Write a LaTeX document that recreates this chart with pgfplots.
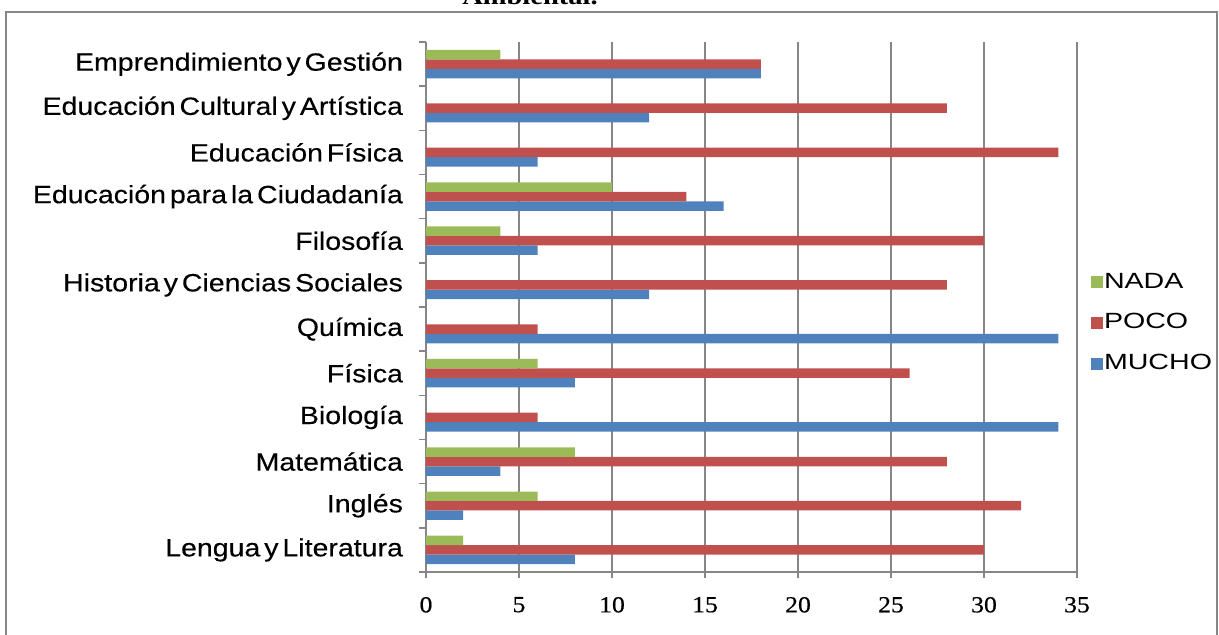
\documentclass[border=0pt]{standalone}
\usepackage{pgfplots}
\pgfplotsset{compat=1.18}
\usepackage{fontspec}
\setmainfont[FakeStretch=1.15]{Liberation Serif}
\newfontfamily\tickfont[FakeStretch=1.12, FakeBold=0.6]{Liberation Serif}
\newfontfamily\labelfont[FakeStretch=1.14, WordSpace=0.5, FakeBold=0.3]{Liberation Sans}
\newfontfamily\legfont[FakeStretch=1.3]{Liberation Sans}
\definecolor{mucho}{HTML}{4F81BD}
\definecolor{poco}{HTML}{C0504D}
\definecolor{nada}{HTML}{9BBB59}
\definecolor{gridgray}{RGB}{134,134,134}

\begin{document}
\begin{tikzpicture}
\begin{axis}[
  at={(0pt,0pt)}, anchor=south west,
  scale only axis, width=325.5pt, height=265pt,
  xbar, bar width=0.215,
  xmin=0, xmax=35, ymin=-0.5, ymax=11.5,
  xtick={0,5,...,35},
  ytick={0,...,11},
  yticklabels={Lengua y Literatura, Inglés, Matemática, Biología, Física, Química,
    Historia y Ciencias Sociales, Filosofía, Educación para la Ciudadanía,
    Educación Física, Educación Cultural y Artística, Emprendimiento y Gestión},
  minor ytick={-0.5,0.5,...,11.5},
  axis x line*=bottom, axis y line*=left,
  axis line style={gridgray, line width=0.8pt},
  xmajorgrids, grid style={gridgray, line width=0.8pt},
  tick align=outside, major tick length=3pt, minor tick length=3.5pt,
  major y tick style={draw=none},
  minor y tick style={draw=gridgray, line width=0.8pt},
  major x tick style={draw=gridgray, line width=0.8pt},
  /pgf/number format/assume math mode=true,
  xticklabel style={font=\fontsize{11.5}{13}\tickfont, yshift=-6pt},
  yticklabel style={font=\fontsize{12.5}{14}\labelfont, xshift=-5pt},
  reverse legend,
  legend style={at={(1.012,0.47)}, anchor=west, draw=none, fill=none,
    font=\fontsize{11}{12}\legfont, row sep=10.4pt,
    nodes={inner sep=0.4pt}},
  legend cell align=left,
  legend image code/.code={\fill[#1] (0pt,-3pt) rectangle (6pt,3pt);},
]
\addplot[fill=mucho, draw=none, bar shift=-0.215] coordinates
  {(8,0) (2,1) (4,2) (34,3) (8,4) (34,5) (12,6) (6,7) (16,8) (6,9) (12,10) (18,11)};
\addlegendentry{MUCHO}
\addplot[fill=poco, draw=none, bar shift=0] coordinates
  {(30,0) (32,1) (28,2) (6,3) (26,4) (6,5) (28,6) (30,7) (14,8) (34,9) (28,10) (18,11)};
\addlegendentry{POCO}
\addplot[fill=nada, draw=none, bar shift=0.215] coordinates
  {(2,0) (6,1) (8,2) (0,3) (6,4) (0,5) (0,6) (4,7) (10,8) (0,9) (0,10) (4,11)};
\addlegendentry{NADA}
\end{axis}
\draw[gridgray, line width=0.8pt] (-210pt,280pt) rectangle (395.5pt,-44pt);
\node[font=\bfseries\fontsize{12.4}{14}\selectfont, anchor=base] at (52pt,283.75pt) {Ambiental.};
\pgfresetboundingbox
\useasboundingbox (-213pt,-31.5pt) rectangle (396.5pt,286pt);
\end{tikzpicture}
\end{document}
